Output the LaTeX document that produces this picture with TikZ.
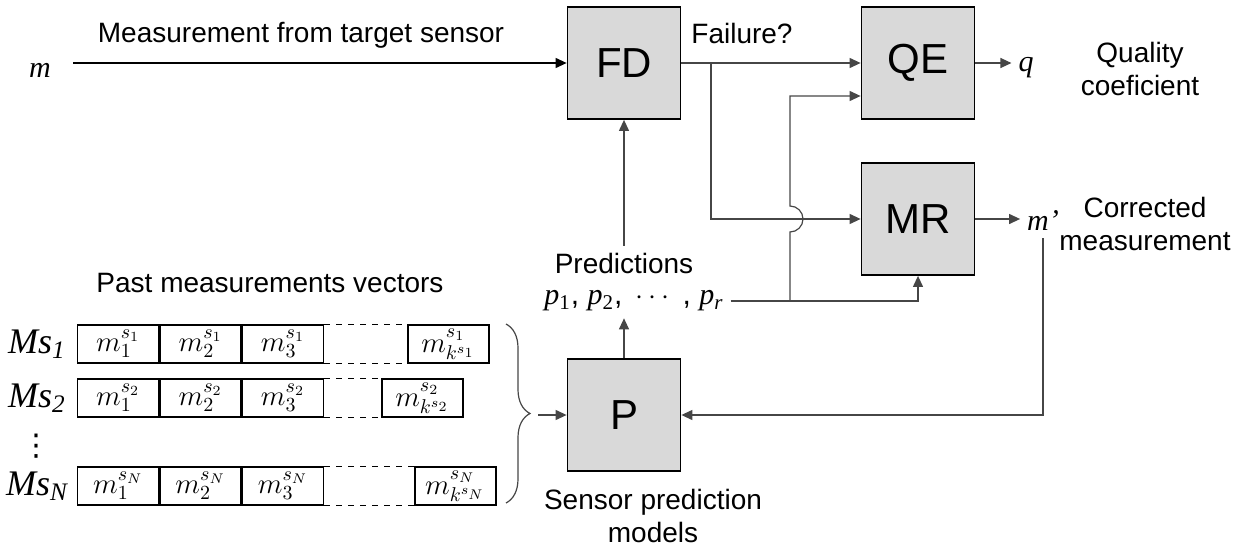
\documentclass[tikz,border=0pt]{standalone}
\usepackage{fontspec}
\setmainfont{Liberation Sans}
\newfontfamily\tnr{Liberation Serif}
\newfontfamily\dejavu{DejaVu Sans}
\usetikzlibrary{arrows.meta,calc,decorations.pathreplacing}
\definecolor{blkgray}{RGB}{217,217,217}
\definecolor{wire}{RGB}{70,70,70}
\tikzset{
  blk/.style={draw,fill=blkgray,line width=0.9pt,minimum width=56.5pt,minimum height=56pt,font=\fontsize{21}{24}\selectfont},
  cell/.style={draw,line width=0.7pt,minimum width=40.5pt,minimum height=19pt,inner sep=0pt,anchor=west,font=\fontsize{14}{16}\selectfont},
  flow/.style={draw=wire,line width=0.6pt,-{Triangle[length=5.5pt,width=5pt]}},
  lbl/.style={font=\fontsize{14}{16.5}\selectfont,align=center},
  sym/.style={font=\fontsize{15}{17}\selectfont\tnr\itshape}
}

\begin{document}
\begin{tikzpicture}[x=0.5pt,y=0.5pt]
    \useasboundingbox (0,0) rectangle (1242,-546);
    % blocks
    \node[blk] (FD) at (624,-63) {FD};
    \node[blk] (QE) at (918,-63) {QE};
    \node[blk] (MR) at (918,-219) {MR};
    \node[blk] (P)  at (624,-415) {P};
    % inputs and outputs
    \node[sym] (m) at (40,-70) {m};
    \coordinate (msrc) at (73,-63);
    \node[lbl] (mlab) at (301,-35) {Measurement from target sensor};
    \draw[flow,draw=black] (msrc) -- (FD.west);
    \node[lbl] (fail) at (742,-33) {Failure?};
    \coordinate (br) at (711,-63);
    \draw[flow] (FD.east) -- (QE.west);
    \draw[flow] (br) |- (MR.west);
    \node[sym] (q) at (1026,-68) {q};
    \draw[flow] (QE.east) -- (QE.east -| q.west);
    \node[lbl] (qlab) at (1140,-69) {Quality\\coeficient};
    \node[sym] (mp) at (1043,-221) {m’};
    \draw[flow] (MR.east) -- (MR.east -| mp.west);
    \node[lbl] (mplab) at (1145,-224) {Corrected\\measurement};
    % predictions
    \node[lbl] (predt) at (624,-263) {Predictions};
    \node[font=\fontsize{15}{17}\selectfont] (preds) at (634,-301) {{\tnr\itshape p}\textsubscript{\tnr 1}, {\tnr\itshape p}\textsubscript{\tnr 2}, \,$\cdots$\, , {\tnr\itshape p}\textsubscript{\tnr\itshape r}};
    \draw[flow] (predt) -- (FD);
    \draw[flow] (P.north) -- (P.north |- preds.south);
    \coordinate (jp) at (790,-300);
    \draw[flow] (preds.east) -| (MR.south);
    \draw[flow] (jp) -- ($(jp |- MR.west)+(0,-13)$) arc[start angle=-90,end angle=90,radius=13] |- ($(QE.west)+(0,-33)$);
    \draw[flow] (mp.south) |- (P.east);
    % past measurement vectors
    \node[lbl] (pastlab) at (270,-283) {Past measurements vectors};
    \foreach \r/\y/\s/\gap in {1/-344/{s_1}/83, 2/-398/{s_2}/57, N/-486/{s_N}/90} {
      \node[cell] (v\r-1) at (77,\y) {$m_1^{\s}$};
      \node[cell] (v\r-2) at (v\r-1.east) {$m_2^{\s}$};
      \node[cell] (v\r-3) at (v\r-2.east) {$m_3^{\s}$};
      \node[cell] (v\r-k) at ($(v\r-3.east)+(\gap,0)$) {$m_{k^{\s}}^{\raisebox{2.5pt}{$\scriptstyle\s$}}$};
      \draw[dashed,line width=0.7pt] (v\r-3.north east) -- (v\r-k.north west) (v\r-3.south east) -- (v\r-k.south west);
      \node[sym,font=\fontsize{18}{20}\selectfont\tnr\itshape] (ms\r) at (37,\y) {Ms\textsubscript{\r}};
    }
    \node[font=\fontsize{15}{17}\selectfont\dejavu,inner sep=0pt] (vdots) at (36,-446) {⋮};
    \draw[wire,line width=0.6pt,decorate,decoration={brace,amplitude=12pt}] (506,-324) -- (506,-503);
    \coordinate (bt) at (538,-415);
    \draw[flow] (bt) -- (P.west);
    \node[lbl] (plab) at (653,-516) {Sensor prediction\\models};
\end{tikzpicture}
\end{document}
